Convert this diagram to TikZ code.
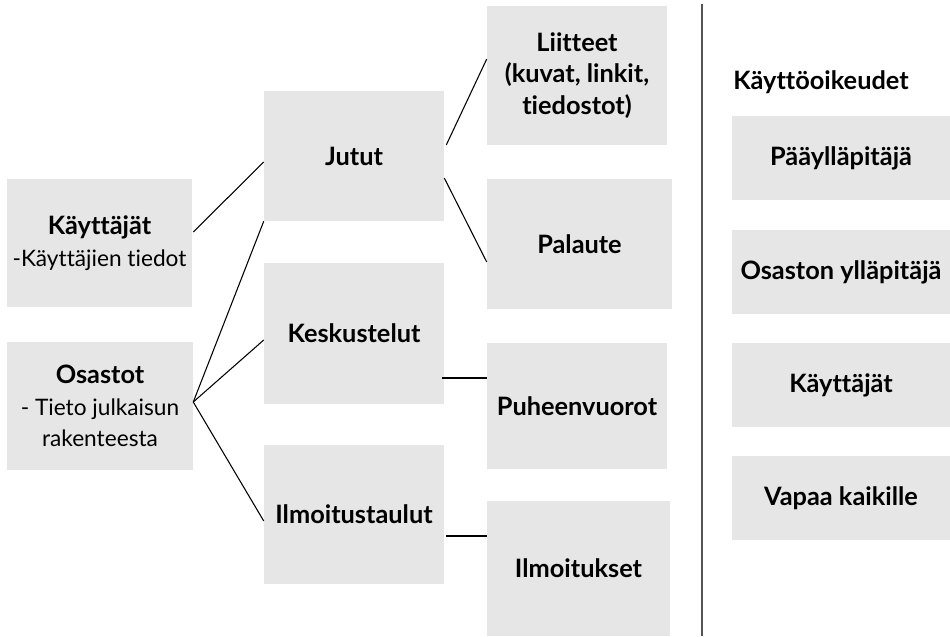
\documentclass[tikz,border=0pt]{standalone}
\usepackage{fontspec}
\setmainfont{Lato}[Ligatures={NoCommon,NoRare}]
\usetikzlibrary{calc}
\definecolor{boxgray}{HTML}{E6E6E6}
\definecolor{divgray}{HTML}{555555}
\newcommand{\reg}{\fontsize{17pt}{23pt}\selectfont\mdseries}
\tikzset{
  box/.style={fill=boxgray, draw=none, inner sep=0pt, align=center,
    font=\fontsize{19pt}{23.5pt}\selectfont\bfseries},
  conn/.style={draw=black, line width=0.8pt},
}
\begin{document}
\begin{tikzpicture}[x=0.75pt,y=-0.75pt]
\useasboundingbox (0,0) rectangle (950,636);
% left column
\node[box, minimum width=138.75pt, minimum height=96pt] (kay) at (99.5,243)
  {Käyttäjät\\\reg -Käyttäjien tiedot};
\node[box, minimum width=139.5pt, minimum height=96pt] (osa) at (100,406)
  {Osastot\\\reg - Tieto julkaisun\\\reg rakenteesta};
% middle column
\node[box, minimum width=135pt, minimum height=97.5pt] (jut) at (354,156) {Jutut};
\node[box, minimum width=135pt, minimum height=105.75pt] (kes) at (354,333.5) {Keskustelut};
\node[box, minimum width=135pt, minimum height=104.25pt] (ilm) at (354,514.5) {Ilmoitustaulut};
% right column
\node[box, minimum width=135pt, minimum height=104.25pt] (lii) at (577,75.5)
  {Liitteet\\(kuvat, linkit,\\tiedostot)};
\node[box, minimum width=138.75pt, minimum height=97.5pt] (pal) at (579.5,244) {Palaute};
\node[box, minimum width=135pt, minimum height=94.5pt] (puh) at (577,406) {Puheenvuorot};
\node[box, minimum width=137.25pt, minimum height=101.25pt] (ilk) at (578.5,568.5) {Ilmoitukset};
% divider
\coordinate (dtop) at (702,4);
\coordinate (dbot) at (702,636);
\draw[divgray, line width=1.1pt] (dtop) -- (dbot);
% rights panel
\node[font=\fontsize{19pt}{23pt}\selectfont\bfseries, inner sep=0pt, anchor=west] (title) at (733,82) {Käyttöoikeudet};
\node[box, minimum width=163.5pt, minimum height=63pt] (r1) at (841,158) {Pääylläpitäjä};
\node[box, minimum width=163.5pt, minimum height=63pt] (r2) at (841,272) {Osaston ylläpitäjä};
\node[box, minimum width=163.5pt, minimum height=63pt] (r3) at (841,385) {Käyttäjät};
\node[box, minimum width=163.5pt, minimum height=63pt] (r4) at (841,498) {Vapaa kaikille};
% connectors
\draw[conn] ($(kay.east)+(1,-11)$) -- ($(jut.west)+(0,6)$);
\draw[conn] ($(osa.east)+(0,-4)$) -- (jut.south west);
\draw[conn] ($(osa.east)+(0,-4)$) -- ($(kes.west)+(0,6.5)$);
\draw[conn] ($(osa.east)+(0,-4)$) -- ($(ilm.west)+(0,6.5)$);
\draw[conn] ($(jut.east)+(2,-11)$) -- ($(lii.west)+(0,-16.5)$);
\draw[conn] ($(jut.east)+(0,22)$) -- ($(pal.west)+(0,18)$);
\draw[conn] ($(kes.east)+(-2,44.5)$) -- ($(puh.west)+(0,-28)$);
\draw[conn] ($(ilm.east)+(2,21.5)$) -- ($(ilk.west)+(0,-32.5)$);
\end{tikzpicture}
\end{document}
